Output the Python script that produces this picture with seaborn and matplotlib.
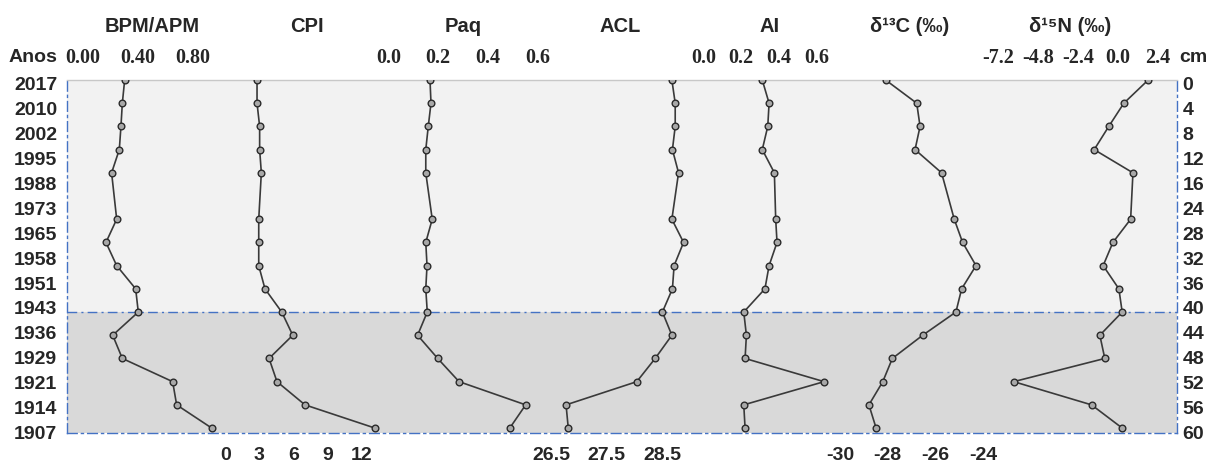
import numpy as np
import matplotlib
matplotlib.use("Agg")
import matplotlib.pyplot as plt
import seaborn as sns

# ---------------- data ----------------
depth = [0, 4, 8, 12, 16, 24, 28, 32, 36, 40, 44, 48, 52, 56, 60]
years = ["2017", "2010", "2002", "1995", "1988", "1973", "1965", "1958",
         "1951", "1943", "1936", "1929", "1921", "1914", "1907"]
cm_labels = ["0", "4", "8", "12", "16", "24", "28", "32", "36", "40",
             "44", "48", "52", "56", "60"]

bpm_apm = [0.303, 0.286, 0.276, 0.264, 0.208, 0.245, 0.167, 0.245, 0.383,
           0.402, 0.216, 0.286, 0.652, 0.681, 0.936]
cpi = [2.80, 2.80, 3.03, 3.03, 3.18, 2.95, 2.95, 2.95, 3.50, 4.98, 5.95,
       3.86, 4.56, 7.03, 13.2]
paq = [0.167, 0.171, 0.160, 0.150, 0.150, 0.176, 0.150, 0.155, 0.150,
       0.156, 0.117, 0.198, 0.284, 0.552, 0.488]
acl = [28.67, 28.73, 28.73, 28.68, 28.79, 28.67, 28.88, 28.71, 28.68,
       28.50, 28.67, 28.37, 28.04, 26.77, 26.81]
ai = [0.311, 0.347, 0.340, 0.311, 0.375, 0.382, 0.389, 0.347, 0.325,
      0.213, 0.227, 0.220, 0.638, 0.213, 0.220]
d13c = [-28.09, -26.79, -26.65, -26.86, -25.75, -25.22, -24.87, -24.31,
        -24.91, -25.15, -26.54, -27.81, -28.21, -28.79, -28.49]
d15n = [1.85, 0.38, -0.53, -1.41, 0.93, 0.79, -0.28, -0.87, 0.08, 0.28,
        -1.07, -0.77, -6.27, -1.57, 0.28]

titles = ["BPM/APM", "CPI", "Paq", "ACL", "AI", "δ¹³C (‰)", "δ¹⁵N (‰)"]
series = [bpm_apm, cpi, paq, acl, ai, d13c, d15n]

bpm_ticks = [0.0, 0.4, 0.8]
bpm_ticklabels = ["0.00", "0.40", "0.80"]
cpi_ticks = [0, 3, 6, 9, 12]
cpi_ticklabels = ["0", "3", "6", "9", "12"]
paq_ticks = [0.0, 0.2, 0.4, 0.6]
paq_ticklabels = ["0.0", "0.2", "0.4", "0.6"]
acl_ticks = [26.5, 27.5, 28.5]
acl_ticklabels = ["26.5", "27.5", "28.5"]
ai_ticks = [0.0, 0.2, 0.4, 0.6]
ai_ticklabels = ["0.0", "0.2", "0.4", "0.6"]
d13c_ticks = [-30, -28, -26, -24]
d13c_ticklabels = ["-30", "-28", "-26", "-24"]
d15n_ticks = [-7.2, -4.8, -2.4, 0.0, 2.4]
d15n_ticklabels = ["-7.2", "-4.8", "-2.4", "0.0", "2.4"]

# ---------------- layout ----------------
W, H = 1216, 465
L_PX, R_PX, T_PX, B_PX = 67, 1177, 80, 432.7
YMAX = 60.8

# pixel anchors of first/last tick for each panel (layout only)
panel_layout = [
    dict(ticks=bpm_ticks, labels=bpm_ticklabels, px=(83, 193), side="top", title_x=152),
    dict(ticks=cpi_ticks, labels=cpi_ticklabels, px=(225.3, 361.3), side="bottom", title_x=307),
    dict(ticks=paq_ticks, labels=paq_ticklabels, px=(388.5, 537.6), side="top", title_x=463),
    dict(ticks=acl_ticks, labels=acl_ticklabels, px=(551, 662.4), side="bottom", title_x=620),
    dict(ticks=ai_ticks, labels=ai_ticklabels, px=(703.5, 816.9), side="top", title_x=770),
    dict(ticks=d13c_ticks, labels=d13c_ticklabels, px=(840, 983.4), side="bottom", title_x=910),
    dict(ticks=d15n_ticks, labels=d15n_ticklabels, px=(998.3, 1157.3), side="top", title_x=1070),
]

sns.set_theme(style="white")
plt.rcParams["font.family"] = ["Liberation Sans", "DejaVu Sans"]

SANS_NARROW = ["Liberation Sans Narrow", "Liberation Sans", "DejaVu Sans"]
SERIF = ["Liberation Serif", "DejaVu Serif"]
BLUE = "#4472C4"
DASHDOT = (0, (7, 3, 1.5, 3))

fig = plt.figure(figsize=(W / 100, H / 100), dpi=100)
rect = [L_PX / W, 1 - B_PX / H, (R_PX - L_PX) / W, (B_PX - T_PX) / H]

ax0 = fig.add_axes(rect)
ax0.set_xlim(0, 1)
ax0.set_ylim(YMAX, 0)
ax0.axhspan(0, 40, color="#F2F2F2", lw=0, zorder=0)
ax0.axhspan(40, YMAX, color="#D9D9D9", lw=0, zorder=0)
ax0.axhline(40, color=BLUE, lw=1.0, ls=DASHDOT, zorder=1)
for s in ["left", "right", "bottom"]:
    ax0.spines[s].set_color(BLUE)
    ax0.spines[s].set_linestyle(DASHDOT)
    ax0.spines[s].set_linewidth(1.0)
ax0.spines["top"].set_color("#C8C8C8")
ax0.spines["top"].set_linewidth(1.0)
ax0.set_xticks([])

label_pos = np.linspace(0.6, 60.8, 15)
ax0.set_yticks(label_pos)
ax0.set_yticklabels(years, fontfamily=SANS_NARROW, fontweight="bold", fontsize=14)
ax0.tick_params(axis="y", length=0, pad=7, left=True)

axr = ax0.twinx()
axr.set_ylim(YMAX, 0)
axr.set_yticks(label_pos)
axr.set_yticklabels(cm_labels, fontfamily=SANS_NARROW, fontweight="bold", fontsize=14)
axr.tick_params(axis="y", length=0, pad=4)
for s in axr.spines.values():
    s.set_visible(False)

for vals, lay, title in zip(series, panel_layout, titles):
    ax = fig.add_axes(rect)
    ax.set_facecolor("none")
    for s in ax.spines.values():
        s.set_visible(False)
    sns.lineplot(x=vals, y=depth, sort=False, estimator=None, ax=ax,
                 color="#3A3A3A", linewidth=1.2, marker="o", markersize=4.8,
                 markerfacecolor="#A8A8A8", markeredgecolor="#2A2A2A",
                 markeredgewidth=1.0, zorder=3)
    t0, t1 = lay["ticks"][0], lay["ticks"][-1]
    p0, p1 = lay["px"]
    scale = (p1 - p0) / (t1 - t0)
    xl = t0 + (L_PX - p0) / scale
    xr = t0 + (R_PX - p0) / scale
    ax.set_xlim(xl, xr)
    ax.set_ylim(YMAX, 0)
    ax.set_yticks([])
    ax.set_ylabel("")
    ax.set_xlabel("")
    ax.set_xticks(lay["ticks"])
    if lay["side"] == "top":
        ax.xaxis.tick_top()
        ax.set_xticklabels(lay["labels"], fontfamily=SERIF, fontweight="bold", fontsize=14.5)
        ax.tick_params(axis="x", length=0, pad=9)
    else:
        ax.xaxis.tick_bottom()
        ax.set_xticklabels(lay["labels"], fontfamily=SANS_NARROW, fontweight="bold", fontsize=14)
        ax.tick_params(axis="x", length=0, pad=10)
    fig.text(lay["title_x"] / W, 1 - 26 / H, title, ha="center", va="center",
             fontsize=14.5, fontweight="bold", family=["Liberation Sans", "DejaVu Sans"])

fig.text(33 / W, 1 - 57 / H, "Anos", ha="center", va="center", fontsize=14,
         fontweight="bold", family=["Liberation Sans", "DejaVu Sans"])
fig.text(1193 / W, 1 - 57 / H, "cm", ha="center", va="center", fontsize=14,
         fontweight="bold", family=["Liberation Sans", "DejaVu Sans"])

fig.savefig("out.png", dpi=100)
